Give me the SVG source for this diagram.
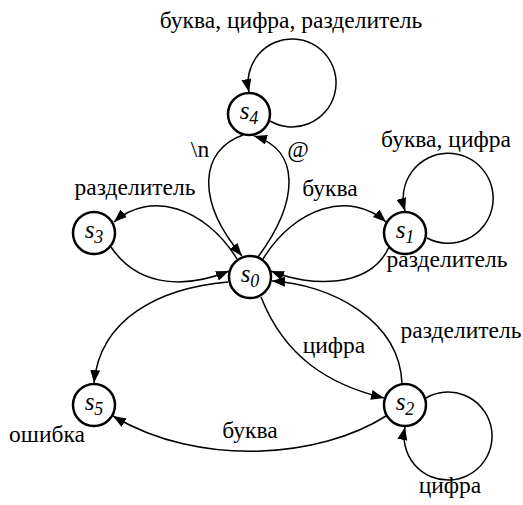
<svg xmlns="http://www.w3.org/2000/svg" width="523" height="505" viewBox="0 0 523 505">
<style>
.bg{fill:#fff}
.node circle{fill:#fff;stroke:#000;stroke-width:2.5}
.node text{font-family:'Liberation Serif',serif;font-style:italic;font-size:25px;fill:#000;text-anchor:middle}
.node tspan{font-size:18px}
.edges path{fill:none;stroke:#000;stroke-width:1.5;marker-end:url(#ah)}
.lbl{font-family:'Liberation Serif',serif;font-size:23.5px;fill:#000;text-anchor:middle}
</style>
<defs>
<marker id="ah" markerUnits="userSpaceOnUse" markerWidth="14" markerHeight="10" viewBox="0 0 14 10" refX="13" refY="5" orient="auto">
<path d="M0,0 L13,5 L0,10 Z" fill="#000"/>
</marker>
</defs>
<rect class="bg" width="523" height="505"/>
<g id="edges" class="edges">
<path id="e-s4-s4" d="M270,121 A44,44 0 1 0 249,92"/>
<path id="e-s4-s0" d="M243,135 C200,150 195,200 242,256"/>
<path id="e-s0-s4" d="M258,257 C300,200 300,150 254,136"/>
<path id="e-s0-s3" d="M237,259 C205,207 150,190 114,222"/>
<path id="e-s3-s0" d="M111,247 C140,290 190,287 229,271"/>
<path id="e-s0-s1" d="M263,259 C295,207 350,190 386,222"/>
<path id="e-s1-s0" d="M389,247 C370,289 310,287 271,271"/>
<path id="e-s1-s1" d="M427,238 A45,45 0 1 0 405,211"/>
<path id="e-s0-s5" d="M228,282 C160,288 100,318 94,383"/>
<path id="e-s0-s2" d="M261,297 C285,358 330,385 384,398"/>
<path id="e-s2-s0" d="M402,384 C400,320 330,284 272,281"/>
<path id="e-s2-s5" d="M386,416 C320,458 200,468 113,416"/>
<path id="e-s2-s2" d="M426,398 A44,44 0 1 1 405,427"/>
</g>
<g id="labels">
<text class="lbl" x="291" y="28">буква, цифра, разделитель</text>
<text class="lbl" x="200" y="157">\n</text>
<text class="lbl" x="298" y="157">@</text>
<text class="lbl" x="446" y="147">буква, цифра</text>
<text class="lbl" x="135" y="195">разделитель</text>
<text class="lbl" x="330" y="196">буква</text>
<text class="lbl" x="447" y="267">разделитель</text>
<text class="lbl" x="461" y="338">разделитель</text>
<text class="lbl" x="334" y="353">цифра</text>
<text class="lbl" x="250" y="438">буква</text>
<text class="lbl" x="47" y="442">ошибка</text>
<text class="lbl" x="450" y="493">цифра</text>
</g>
<g id="nodes">
<g id="s4" class="node"><circle cx="249" cy="114" r="21"/><text x="249" y="119">s<tspan dy="5">4</tspan></text></g>
<g id="s3" class="node"><circle cx="94" cy="233" r="21"/><text x="94" y="238">s<tspan dy="5">3</tspan></text></g>
<g id="s1" class="node"><circle cx="405" cy="233" r="21"/><text x="405" y="238">s<tspan dy="5">1</tspan></text></g>
<g id="s0" class="node"><circle cx="250" cy="277" r="21"/><text x="250" y="282">s<tspan dy="5">0</tspan></text></g>
<g id="s5" class="node"><circle cx="94" cy="405" r="21"/><text x="94" y="410">s<tspan dy="5">5</tspan></text></g>
<g id="s2" class="node"><circle cx="405" cy="405" r="21"/><text x="405" y="410">s<tspan dy="5">2</tspan></text></g>
</g>
</svg>
